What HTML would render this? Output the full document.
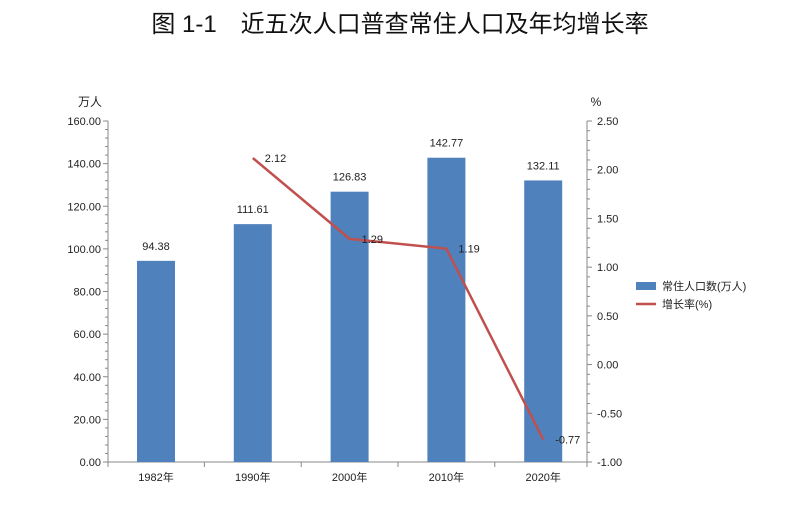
<!DOCTYPE html>
<html><head><meta charset="utf-8"><style>
body{margin:0;background:#fff;width:791px;height:510px;overflow:hidden;font-family:"Liberation Sans","Noto Sans CJK SC",sans-serif}
</style></head><body>
<svg width="791" height="510" xmlns="http://www.w3.org/2000/svg">
<text x="400" y="32" text-anchor="middle" font-size="24" font-family="Liberation Sans,Noto Sans CJK SC,sans-serif" fill="#111">图 1-1　近五次人口普查常住人口及年均增长率</text>
<g id="g"></g>
</svg>
<script>
const categories=["1982年","1990年","2000年","2010年","2020年"];
const population=[94.38,111.61,126.83,142.77,132.11];
const growth=[null,2.12,1.29,1.19,-0.77];
const leftTicks=[0,20,40,60,80,100,120,140,160];
const rightTicks=[-1,-0.5,0,0.5,1,1.5,2,2.5];
const L=108,R=587,T=121,B=462;
const yL=v=>B-(v/160)*(B-T);
const yR=v=>B-((v+1)/3.5)*(B-T);
const bw=96.8;
const x0=156;
const xC=i=>x0+bw*i;
const g=document.getElementById('g');
const NS="http://www.w3.org/2000/svg";
function mk(t,a,txt){const e=document.createElementNS(NS,t);for(const k in a)e.setAttribute(k,a[k]);if(txt!=null)e.textContent=txt;g.appendChild(e);return e;}
let e=mk('line',{x1:L,y1:T,x2:L,y2:B,stroke:'#888'});
e=mk('line',{x1:R,y1:T,x2:R,y2:B,stroke:'#888'});
e=mk('line',{x1:L,y1:B,x2:R,y2:B,stroke:'#888'});
for(let v=0;v<=160;v+=4){const y=yL(v);mk('line',{x1:L-(v%20==0?5:3),y1:y,x2:L,y2:y,stroke:'#888'});}
leftTicks.forEach(v=>{e=mk('text',{x:L-7,y:yL(v)+4,'text-anchor':'end','font-size':11,fill:'#222'},v.toFixed(2));});
for(let k=0;k<=35;k++){const v=-1+k*0.1;const y=yR(v);mk('line',{x1:R,y1:y,x2:R+(k%5==0?5:3),y2:y,stroke:'#888'});}
rightTicks.forEach(v=>{e=mk('text',{x:R+10,y:yR(v)+4,'font-size':11,fill:'#222'},v.toFixed(2));});
for(let i=0;i<=categories.length;i++){const xx=Math.min(R,Math.max(L,x0-bw/2+bw*i));mk('line',{x1:xx,y1:B,x2:xx,y2:B+5,stroke:'#888'});}
categories.forEach((c,i)=>{e=mk('text',{x:xC(i),y:B+19,'text-anchor':'middle','font-size':11,fill:'#222'},c);});
e=mk('text',{x:90,y:106,'text-anchor':'middle','font-size':12,fill:'#222'},'万人');
e=mk('text',{x:596,y:106,'text-anchor':'middle','font-size':12,fill:'#222'},'%');
population.forEach((v,i)=>{e=mk('rect',{x:xC(i)-19,y:yL(v),width:38,height:B-yL(v),fill:'#4f81bd'});
e=mk('text',{x:xC(i),y:yL(v)-11,'text-anchor':'middle','font-size':11,fill:'#222'},v.toFixed(2));});
const pts=growth.map((v,i)=>v==null?null:[xC(i),yR(v)]).filter(p=>p);
e=mk('polyline',{points:pts.map(p=>p.join(',')).join(' '),fill:'none',stroke:'#c0504d','stroke-width':2.5});
growth.forEach((v,i)=>{if(v==null)return;e=mk('text',{x:xC(i)+12,y:yR(v)+4,'font-size':11,fill:'#222'},v.toFixed(2));});
e=mk('rect',{x:636,y:282,width:20,height:8,fill:'#4f81bd'});
e=mk('text',{x:662,y:290,'font-size':11,fill:'#222'},'常住人口数(万人)');
e=mk('line',{x1:636,y1:304,x2:656,y2:304,stroke:'#c0504d','stroke-width':2.5});
e=mk('text',{x:662,y:308,'font-size':11,fill:'#222'},'增长率(%)');
</script>
</body></html>
